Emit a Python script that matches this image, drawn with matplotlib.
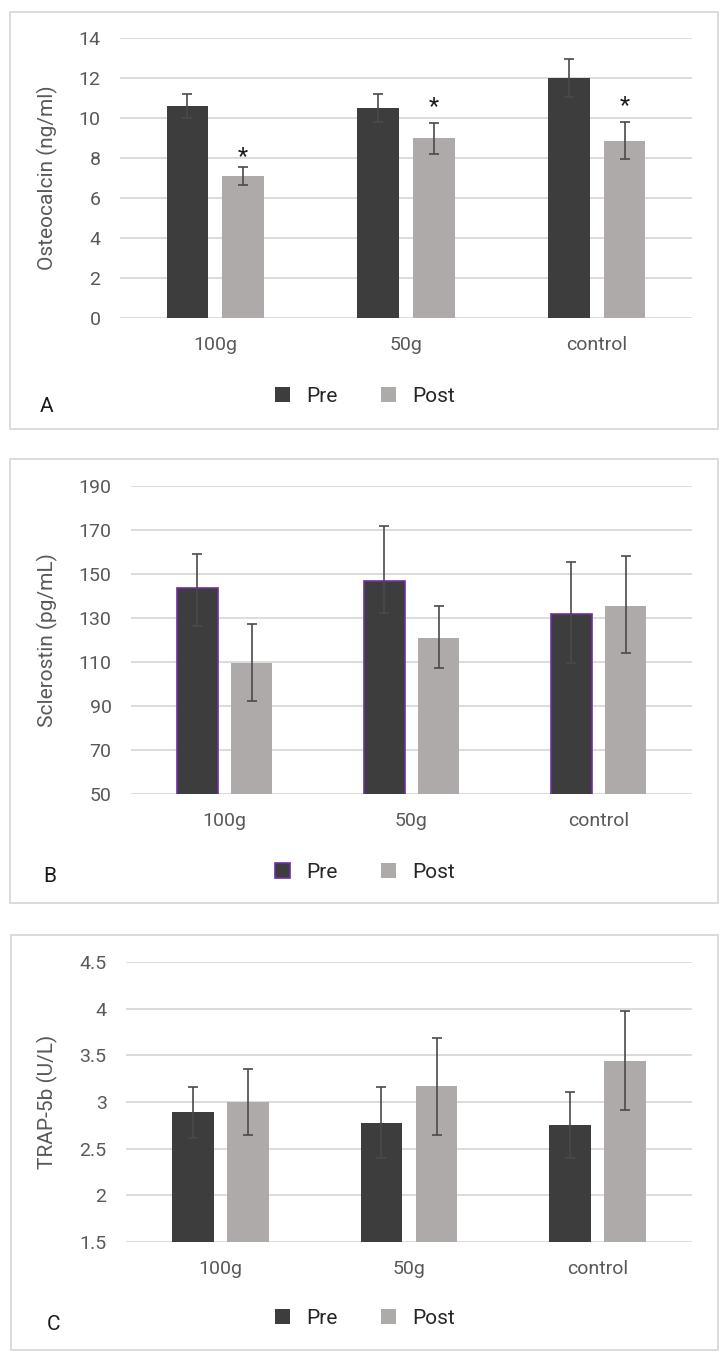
import matplotlib
matplotlib.use("Agg")
import matplotlib.pyplot as plt
from matplotlib.patches import Patch, Rectangle
from matplotlib.ticker import FuncFormatter
import numpy as np

plt.rcParams['font.family'] = ['Roboto', 'DejaVu Sans']

groups = ['100g', '50g', 'control']

# panel A - osteocalcin
osteo_pre = [10.6, 10.5, 12.0]
osteo_pre_err = [0.6, 0.69, 0.96]
osteo_post = [7.1, 8.98, 8.87]
osteo_post_err = [0.43, 0.77, 0.94]
osteo_star = [8.3, 10.8, 10.85]   # asterisks above the post bars

# panel B - sclerostin (asymmetric error bars: lower, upper)
scl_pre = [143.7, 146.8, 131.8]
scl_pre_lo = [17.4, 14.6, 22.4]
scl_pre_hi = [15.5, 25.2, 23.6]
scl_post = [109.7, 121.1, 135.6]
scl_post_lo = [17.4, 14.0, 21.3]
scl_post_hi = [17.4, 14.3, 22.5]

# panel C - TRAP-5b
trap_pre = [2.89, 2.78, 2.75]
trap_pre_err = [0.275, 0.385, 0.355]
trap_post = [3.0, 3.17, 3.44]
trap_post_err = [0.35, 0.52, 0.53]

PRE = '#3d3d3d'
POST = '#aeaaaa'
GRID = '#d9d9d9'
ERR = '#4a4a4a'

W, H = 723, 1368
fig = plt.figure(figsize=(W / 100, H / 100), dpi=100)


def px_axes(left, top, right, bottom):
    return fig.add_axes([left / W, 1 - bottom / H, (right - left) / W, (bottom - top) / H])


def panel_box(left, top, right, bottom):
    fig.add_artist(Rectangle((left / W, 1 - bottom / H), (right - left) / W, (bottom - top) / H,
                             transform=fig.transFigure, fill=False, edgecolor=GRID, lw=1.3))


def draw(ax, pre, pre_err, post, post_err, ylim, step, ylabel, label_x, pre_edge=None, fmt='%g'):
    x = np.arange(len(groups))
    bw, off = 0.22, 0.146
    ekw = dict(ecolor=ERR, elinewidth=1.2, capsize=3.6, capthick=1.2)
    if pre_edge:
        ax.bar(x - off, pre, bw, color=PRE, edgecolor=pre_edge, linewidth=1.2,
               yerr=pre_err, error_kw=ekw, zorder=2)
    else:
        ax.bar(x - off, pre, bw, color=PRE, yerr=pre_err, error_kw=ekw, zorder=2)
    ax.bar(x + off, post, bw, color=POST, yerr=post_err, error_kw=ekw, zorder=2)
    ax.set_xlim(-0.5, 2.5)
    ax.set_ylim(*ylim)
    ax.set_yticks(np.arange(ylim[0], ylim[1] + step / 2, step))
    ax.yaxis.set_major_formatter(FuncFormatter(lambda v, p: fmt % v))
    ax.set_xticks(x)
    ax.set_xticklabels(groups)
    ax.yaxis.grid(True, color=GRID, lw=1.3)
    ax.set_axisbelow(True)
    for s in ax.spines.values():
        s.set_visible(False)
    ax.tick_params(axis='both', length=0, labelsize=14, labelcolor='#595959')
    ax.tick_params(axis='y', pad=14)
    ax.tick_params(axis='x', pad=13)
    ax.set_ylabel(ylabel, fontsize=15, color='#595959')
    ax.yaxis.set_label_coords(label_x, 0.5)
    ax.patch.set_alpha(0)


def legend(y, pre_edge=None):
    handles = [Patch(facecolor=PRE, edgecolor=pre_edge if pre_edge else PRE, lw=1.2 if pre_edge else 0),
               Patch(facecolor=POST, edgecolor=POST, lw=0)]
    fig.legend(handles, ['Pre', 'Post'], loc='center', bbox_to_anchor=(0.505, 1 - y / H), ncol=2,
               frameon=False, fontsize=15, handlelength=0.7, handleheight=0.7,
               handletextpad=0.8, columnspacing=2.1, labelcolor='#262626')


# panel A
panel_box(10, 12, 718, 429)
axA = px_axes(120, 38, 692, 318)
draw(axA, osteo_pre, osteo_pre_err, osteo_post, osteo_post_err, (0, 14), 2,
     'Osteocalcin (ng/ml)', -0.108)
for i, s in enumerate(osteo_star):
    axA.annotate('*', (i + 0.146, s), xytext=(0, -8), textcoords='offset points',
                 ha='center', va='baseline', fontsize=17, color='#1a1a1a')
legend(396)
fig.text(47 / W, 1 - 407 / H, 'A', fontsize=15, ha='center', va='center', color='#1a1a1a')

# panel B
panel_box(10, 459, 718, 903)
axB = px_axes(131, 486, 692, 794)
draw(axB, scl_pre, [scl_pre_lo, scl_pre_hi], scl_post, [scl_post_lo, scl_post_hi],
     (50, 190), 20, 'Sclerostin (pg/mL)', -0.130, pre_edge='#7030a0')
legend(872, pre_edge='#7030a0')
fig.text(50 / W, 1 - 877 / H, 'B', fontsize=15, ha='center', va='center', color='#1a1a1a')

# panel C
panel_box(11, 935, 718, 1350)
axC = px_axes(126, 962, 692, 1242)
draw(axC, trap_pre, trap_pre_err, trap_post, trap_post_err, (1.5, 4.5), 0.5,
     'TRAP-5b (U/L)', -0.120)
legend(1318)
fig.text(53 / W, 1 - 1325 / H, 'C', fontsize=15, ha='center', va='center', color='#1a1a1a')

fig.savefig('out.png', dpi=100)
